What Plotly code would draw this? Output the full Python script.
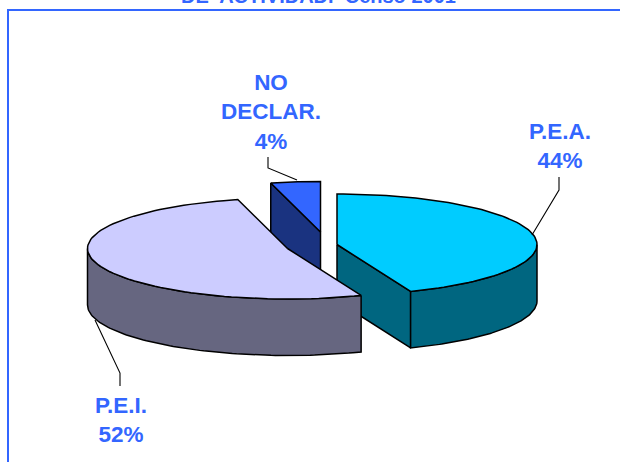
import numpy as np
import plotly.graph_objects as go

# ---- data
categories = ["P.E.A.", "P.E.I.", "NO<br>DECLAR."]
percent_values = [44, 52, 4]
title_text = "DE  ACTIVIDAD.  Censo 2001"

# ---- style and layout
W, H = 620, 462
BLUE = "#3366FF"
top_colors = ["#00CCFF", "#CCCCFF", "#3366FF"]
side_colors = ["#006680", "#666680", "#1A3380"]
centers = [(337, 244.5), (287.5, 248.5), (320.5, 232)]
label_pos = [(559.5, 145.5), (121, 419.5), (271, 112)]
leaders = [
    ([559, 559, 532], [177, 190, 235]),
    ([120, 120, 95], [386, 373, 320]),
    ([268, 268, 297], [157, 168, 180]),
]
RX, RY, DEPTH = 200, 50.5, 56.5
DRAW_ORDER = [2, 0, 1]  # back wedge first, then the two front wedges

# slice angles, clockwise from 12 o'clock
edges = np.concatenate([[0], np.cumsum(percent_values)]) / sum(percent_values) * 2 * np.pi
fig = go.Figure()


def rim(c, a0, a1, n=90, dy=0.0):
    t = np.linspace(a0, a1, n)
    return c[0] + RX * np.sin(t), c[1] - RY * np.cos(t) + dy


def poly(x, y, color):
    fig.add_trace(go.Scatter(
        x=list(x) + [x[0]], y=list(y) + [y[0]], mode="lines", fill="toself",
        fillcolor=color, line=dict(color="#000000", width=1.5),
        hoverinfo="skip", showlegend=False))


for i in DRAW_ORDER:
    c = centers[i]
    a0, a1 = edges[i], edges[i + 1]
    rx0, ry0 = rim(c, a0, a0, 2)
    rx1, ry1 = rim(c, a1, a1, 2)
    # radial walls that face the viewer
    if np.sin(a0) < 0:   # leading edge faces left-front
        poly([rx0[0], c[0], c[0], rx0[0]],
             [ry0[0], c[1], c[1] + DEPTH, ry0[0] + DEPTH], side_colors[i])
    if np.sin(a1) > 0:   # trailing edge faces right-front
        poly([c[0], rx1[0], rx1[0], c[0]],
             [c[1], ry1[0], ry1[0] + DEPTH, c[1] + DEPTH], side_colors[i])
    # outer curved wall, front half of the ellipse only
    s0, s1 = max(a0, np.pi / 2), min(a1, 3 * np.pi / 2)
    if s1 > s0:
        xt, yt = rim(c, s0, s1)
        xb, yb = rim(c, s1, s0, dy=DEPTH)
        poly(np.concatenate([xt, xb]), np.concatenate([yt, yb]), side_colors[i])
    # top face
    xt, yt = rim(c, a0, a1)
    poly(np.concatenate([[c[0]], xt]), np.concatenate([[c[1]], yt]), top_colors[i])

for lx, ly in leaders:
    fig.add_trace(go.Scatter(x=lx, y=ly, mode="lines",
                             line=dict(color="#000000", width=1.1),
                             hoverinfo="skip", showlegend=False))

for name, val, (lx, ly) in zip(categories, percent_values, label_pos):
    fig.add_annotation(x=lx, y=ly, text=f"<b>{name}<br>{val}%</b>", showarrow=False,
                       font=dict(family="Liberation Sans", size=22.5, color=BLUE),
                       xanchor="center", yanchor="middle", align="center")

# title, cropped by the top of the picture as in the reference
fig.add_annotation(x=318 / W, y=1 + 4 / H, xref="paper", yref="paper",
                   text=f"<b>{title_text}</b>", showarrow=False,
                   font=dict(family="Liberation Sans", size=20, color=BLUE),
                   xanchor="center", yanchor="middle")

# chart-area frame, cropped by the picture on the right and bottom
fig.add_shape(type="line", x0=7, x1=W + 5, y0=10, y1=10, line=dict(color=BLUE, width=2))
fig.add_shape(type="line", x0=8, x1=8, y0=9, y1=H + 5, line=dict(color=BLUE, width=2))

fig.update_layout(
    width=W, height=H, margin=dict(l=0, r=0, t=0, b=0),
    paper_bgcolor="white", plot_bgcolor="white", showlegend=False,
    xaxis=dict(range=[0, W], visible=False, fixedrange=True),
    yaxis=dict(range=[H, 0], visible=False, fixedrange=True),
)
fig.write_html("out.html", config={"displayModeBar": False},
               post_script="document.body.style.margin='0';")
